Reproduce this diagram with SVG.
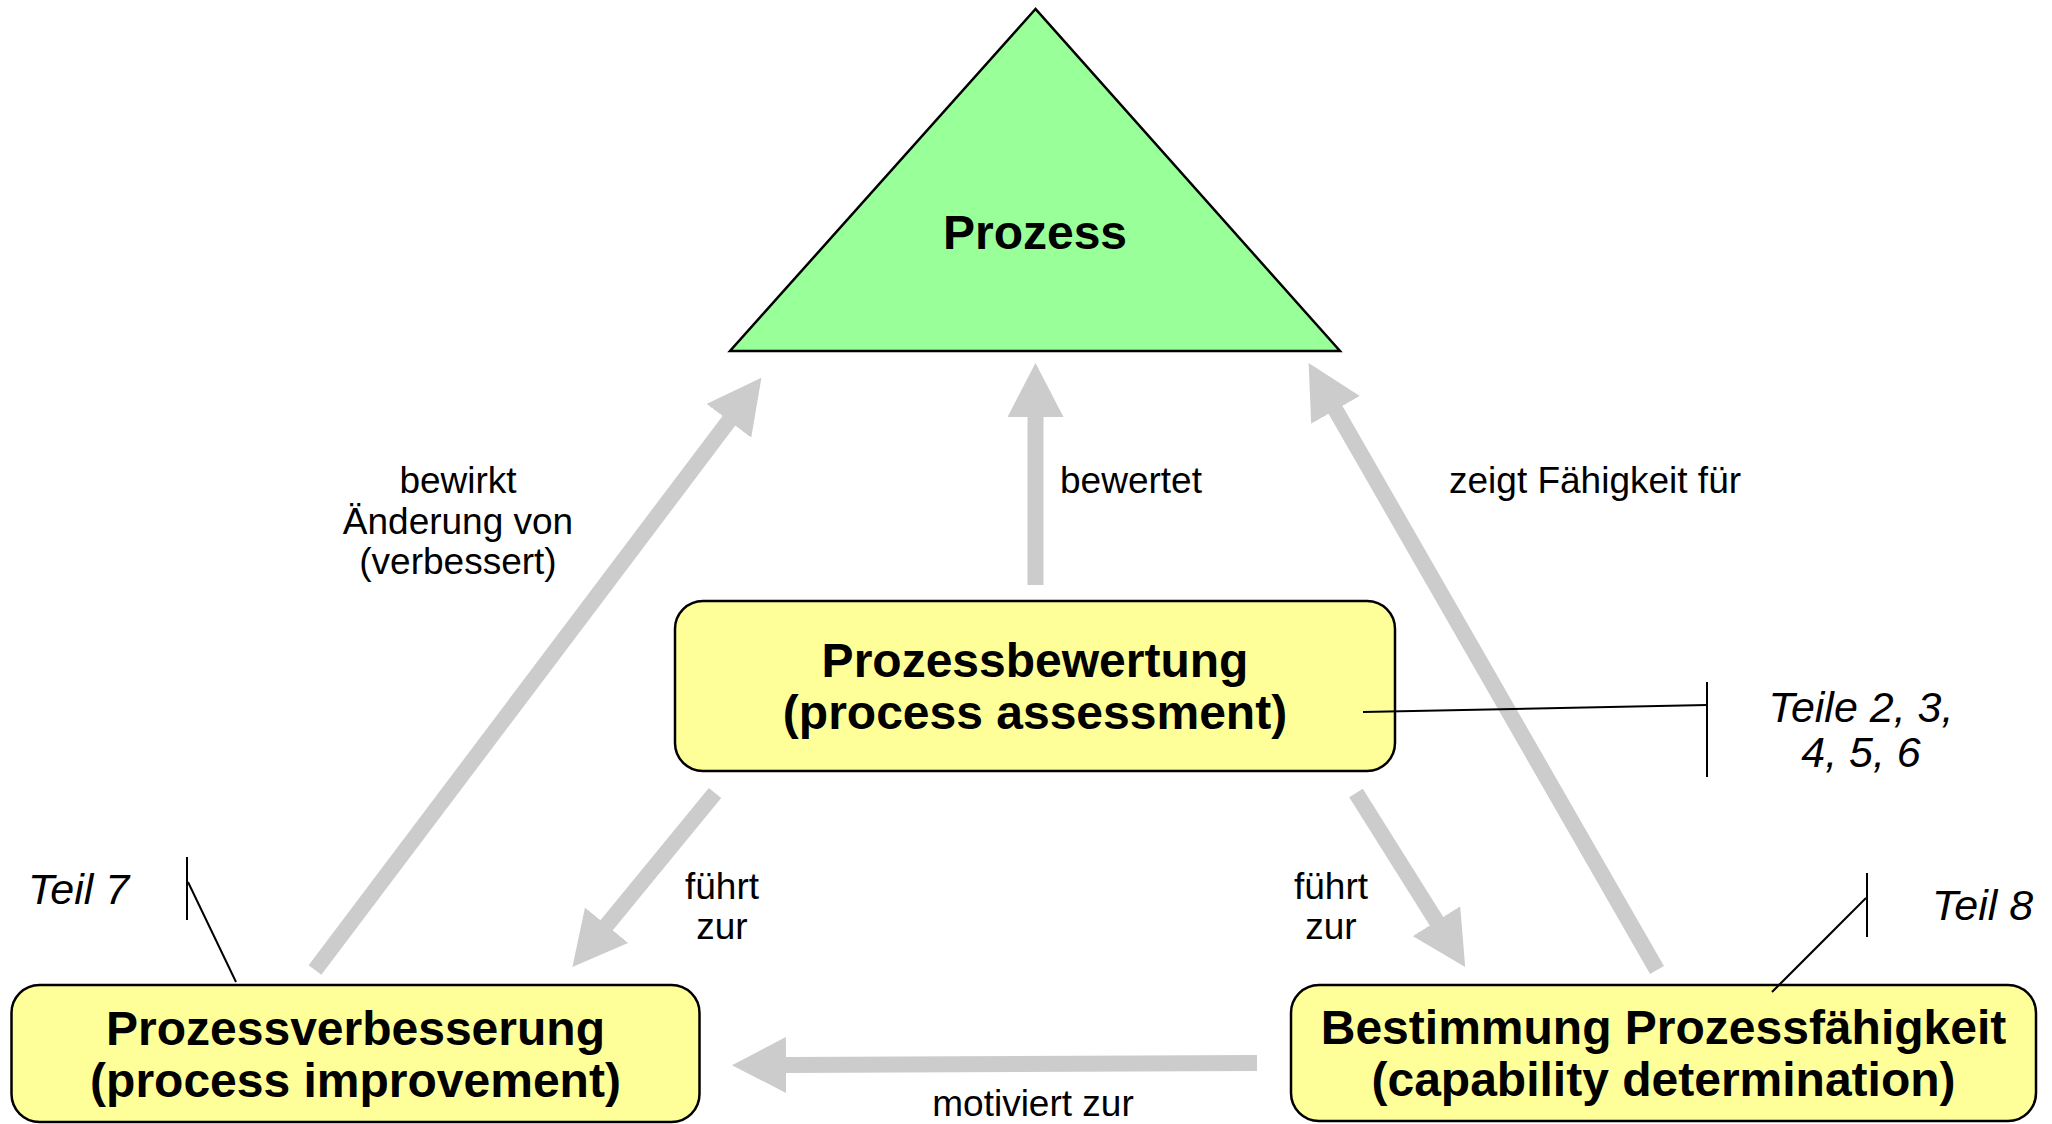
<svg xmlns="http://www.w3.org/2000/svg" width="2052" height="1124" viewBox="0 0 2052 1124">
  <style>
    .box { fill: #FFFF99; stroke: #000; stroke-width: 2.5; }
    .tri { fill: #99FF99; stroke: #000; stroke-width: 2.5; stroke-linejoin: miter; }
    .title { font-family: "Liberation Sans", Arial, sans-serif; font-weight: bold; font-size: 48px; fill: #000; text-anchor: middle; }
    .lbl { font-family: "Liberation Sans", Arial, sans-serif; font-size: 37px; fill: #000; }
    .mid { text-anchor: middle; }
    .ref { font-family: "Liberation Sans", Arial, sans-serif; font-style: italic; font-size: 43px; fill: #000; }
    .arrow { fill: none; stroke: #CCCCCC; stroke-width: 16; marker-end: url(#head); }
    .thin { fill: none; stroke: #000; stroke-width: 2; }
  </style>
  <defs>
    <marker id="head" markerUnits="userSpaceOnUse" viewBox="0 0 54 56" markerWidth="54" markerHeight="56" refX="1" refY="28" orient="auto">
      <path d="M0,0 L54,28 L0,56 z" fill="#CCCCCC"/>
    </marker>
  </defs>
  <rect width="2052" height="1124" fill="#FFFFFF"/>

  <g id="node-prozess">
    <polygon class="tri" points="1035.5,9 730,351 1340,351"/>
    <text class="title" x="1035" y="249" font-size="47">Prozess</text>
  </g>

  <g id="node-prozessbewertung">
    <rect class="box" x="675" y="601" width="720" height="170" rx="28" ry="28"/>
    <text class="title" x="1035" y="677">Prozessbewertung</text>
    <text class="title" x="1035" y="729">(process assessment)</text>
  </g>

  <g id="node-prozessverbesserung">
    <rect class="box" x="11.5" y="985" width="688" height="137" rx="28" ry="28"/>
    <text class="title" x="355.5" y="1045">Prozessverbesserung</text>
    <text class="title" x="355.5" y="1097">(process improvement)</text>
  </g>

  <g id="node-bestimmung">
    <rect class="box" x="1291" y="985" width="745" height="136" rx="28" ry="28"/>
    <text class="title" x="1663.5" y="1044">Bestimmung Prozessfähigkeit</text>
    <text class="title" x="1663.5" y="1096">(capability determination)</text>
  </g>

  <g id="note-teile-2-6">
    <text class="ref mid" x="1861" y="722">Teile 2, 3,</text>
    <text class="ref mid" x="1861" y="767">4, 5, 6</text>
  </g>

  <g id="note-teil-7">
    <text class="ref" x="28" y="904">Teil 7</text>
  </g>

  <g id="note-teil-8">
    <text class="ref" x="1932" y="920">Teil 8</text>
  </g>

  <g id="connectors">
    <path class="arrow" d="M1035.5,585 L1035.5,416"/>
    <path class="arrow" d="M315,970 L729.5,420"/>
    <path class="arrow" d="M1657,970 L1335,409"/>
    <path class="arrow" d="M715,793 L606,926"/>
    <path class="arrow" d="M1356,793 L1437,922"/>
    <path class="arrow" d="M1257,1063 L785,1065"/>
    <path class="thin" d="M1363,712 L1707,705"/>
    <path class="thin" d="M1707,682 L1707,777"/>
    <path class="thin" d="M187,857 L187,920"/>
    <path class="thin" d="M188,882 L236,982"/>
    <path class="thin" d="M1867,873 L1867,937"/>
    <path class="thin" d="M1866,898 L1772,992"/>
  </g>

  <g id="labels">
    <text class="lbl mid" x="458" y="493">bewirkt</text>
    <text class="lbl mid" x="458" y="534">Änderung von</text>
    <text class="lbl mid" x="458" y="574">(verbessert)</text>
    <text class="lbl" x="1060" y="493">bewertet</text>
    <text class="lbl" x="1449" y="493">zeigt Fähigkeit für</text>
    <text class="lbl mid" x="722" y="899">führt</text>
    <text class="lbl mid" x="722" y="939">zur</text>
    <text class="lbl mid" x="1331" y="899">führt</text>
    <text class="lbl mid" x="1331" y="939">zur</text>
    <text class="lbl mid" x="1033" y="1116">motiviert zur</text>
  </g>
</svg>
